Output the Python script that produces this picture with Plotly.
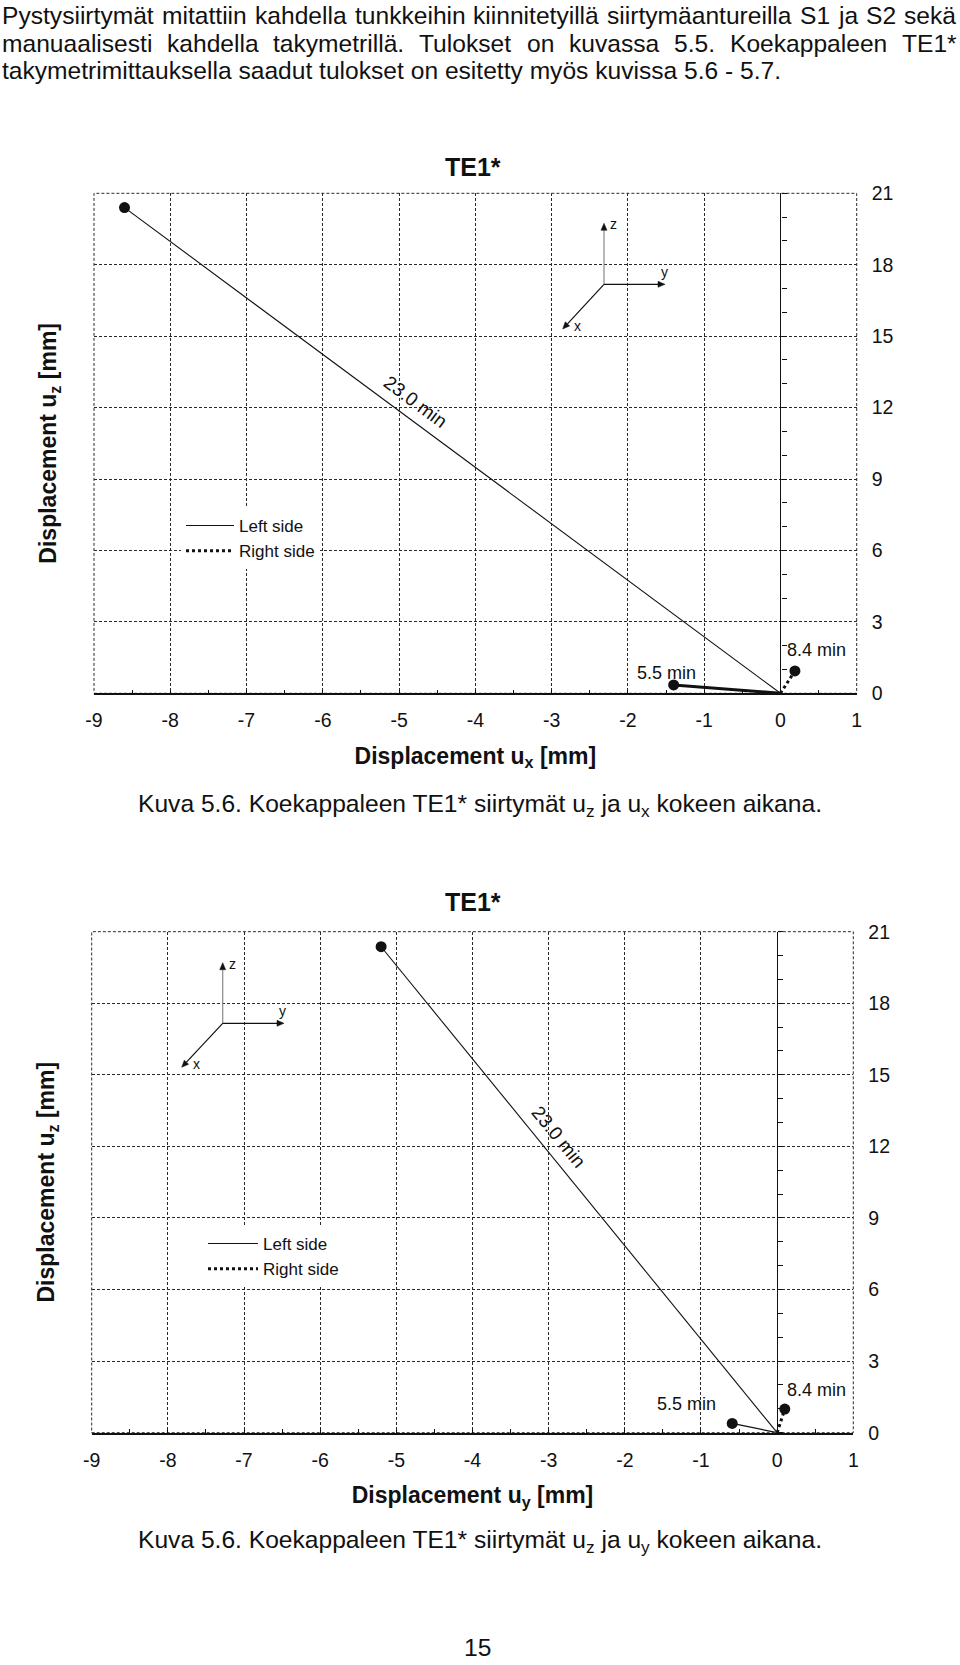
import math
import plotly.graph_objects as go

W, H = 960, 1665

# ---------------- data ----------------
time_left = ["5.5 min", "23.0 min"]
time_right = ["8.4 min"]
# chart 1: u_z vs u_x
ux_left = [-1.40, -8.60]
uz_left_a = [0.35, 20.40]
ux_right = [0.19]
uz_right_a = [0.94]
# chart 2: u_z vs u_y
uy_left = [-0.59, -5.20]
uz_left_b = [0.39, 20.37]
uy_right = [0.10]
uz_right_b = [0.99]

x_ticks = [-9, -8, -7, -6, -5, -4, -3, -2, -1, 0, 1]
x_ticktext = ["-9", "-8", "-7", "-6", "-5", "-4", "-3", "-2", "-1", "0", "1"]
z_ticks = [0, 3, 6, 9, 12, 15, 18, 21]
x_range = [-9, 1]
z_range = [0, 21]

FONT = "Liberation Sans, Arial, Helvetica, sans-serif"
BLACK = "#111111"
GRID = "#2a2a2a"
GDASH = "3px,2px"
BODY = 24.6


def px(xp):
    return xp / W


def py(yp):
    return 1 - yp / H


def text_ann(x, y, text, size, xanchor="center", **kw):
    d = dict(x=px(x), y=py(y), xref="paper", yref="paper", text=text,
             showarrow=False, xanchor=xanchor, yanchor="middle",
             font=dict(size=size, color=BLACK, family=FONT))
    d.update(kw)
    return d


def arrow_shapes(o, tip, color, head_color=BLACK):
    ox, oy = o
    tx, ty = tip
    L = math.hypot(tx - ox, ty - oy)
    ux, uy = (tx - ox) / L, (ty - oy) / L
    bx, by = tx - 7 * ux, ty - 7 * uy
    nx, ny = -uy, ux
    line = dict(type="line", xref="paper", yref="paper",
                x0=px(ox), y0=py(oy), x1=px(bx), y1=py(by),
                line=dict(color=color, width=1.2), layer="above")
    p1 = (bx + 3 * nx, by + 3 * ny)
    p2 = (bx - 3 * nx, by - 3 * ny)
    path = "M {:.5f},{:.5f} L {:.5f},{:.5f} L {:.5f},{:.5f} Z".format(
        px(tx), py(ty), px(p1[0]), py(p1[1]), px(p2[0]), py(p2[1]))
    head = dict(type="path", xref="paper", yref="paper", path=path,
                fillcolor=head_color, line=dict(color=head_color, width=0.5),
                layer="above")
    return [line, head]


fig = go.Figure()

charts = [
    dict(xa="x", ya="y", ylab_ref="y2", yz_ref="y3",
         xl="xaxis", yl="yaxis", ylab="yaxis2", yz="yaxis3", leg="legend",
         hl=ux_left, vl=uz_left_a, hr=ux_right, vr=uz_right_a,
         left_px=94.0, right_px=856.7, top_px=193.3, bot_px=693.3,
         short_w=3.0, xtitle="<b>Displacement u<sub>x</sub> [mm]</b>",
         lab55=(-7, -12), lab84=(22, -21), f23=0.557, sh23=21, ang23=36.5,
         title_y=167, caption_y=805,
         caption="Kuva 5.6. Koekappaleen TE1* siirtymät u<sub>z</sub> ja u<sub>x</sub> kokeen aikana.",
         leg_xy=(181, 508), leg_w=48,
         tri=dict(o=(604, 284.3), z=(604, 223.3), y=(665, 284.3), x=(562.7, 329),
                  lz=(613, 224), ly=(664, 272), lx=(577, 326))),
    dict(xa="x2", ya="y4", ylab_ref="y5", yz_ref="y6",
         xl="xaxis2", yl="yaxis4", ylab="yaxis5", yz="yaxis6", leg="legend2",
         hl=uy_left, vl=uz_left_b, hr=uy_right, vr=uz_right_b,
         left_px=91.7, right_px=853.3, top_px=931.7, bot_px=1432.7,
         short_w=1.2, xtitle="<b>Displacement u<sub>y</sub> [mm]</b>",
         lab55=(-46, -19), lab84=(32, -19), f23=0.553, sh23=27, ang23=50.8,
         title_y=902, caption_y=1541,
         caption="Kuva 5.6. Koekappaleen TE1* siirtymät u<sub>z</sub> ja u<sub>y</sub> kokeen aikana.",
         leg_xy=(203, 1226), leg_w=50,
         tri=dict(o=(222.7, 1023.3), z=(222.7, 962.7), y=(284, 1023.3), x=(181.7, 1067.3),
                  lz=(232, 964), ly=(282, 1011), lx=(196, 1064))),
]

annotations = []
shapes = []
layout_axes = {}

for c in charts:
    xa, ya = c["xa"], c["ya"]
    # long left-side line (23.0 min)
    fig.add_trace(go.Scatter(
        x=[0, c["hl"][1]], y=[0, c["vl"][1]], xaxis=xa, yaxis=ya,
        mode="lines", name="Left side", legend=c["leg"],
        line=dict(color=BLACK, width=1.1), hoverinfo="skip"))
    # short left-side line (5.5 min)
    fig.add_trace(go.Scatter(
        x=[0, c["hl"][0]], y=[0, c["vl"][0]], xaxis=xa, yaxis=ya,
        mode="lines", showlegend=False,
        line=dict(color=BLACK, width=c["short_w"]), hoverinfo="skip"))
    # end-point dots (on the overlay axis that carries the right-hand labels)
    fig.add_trace(go.Scatter(
        x=c["hl"] + c["hr"], y=c["vl"] + c["vr"], xaxis=xa, yaxis=c["ylab_ref"],
        mode="markers", showlegend=False,
        marker=dict(color=BLACK, size=11), hoverinfo="skip"))
    # right side (dotted) on the axis drawn at x = 0
    fig.add_trace(go.Scatter(
        x=[0, c["hr"][0]], y=[0, c["vr"][0]], xaxis=xa, yaxis=c["yz_ref"],
        mode="lines", name="Right side", legend=c["leg"],
        line=dict(color=BLACK, width=3, dash="dot"), hoverinfo="skip"))

    # time labels
    annotations.append(dict(x=c["hl"][0], y=c["vl"][0], xref=xa, yref=ya,
                            text=time_left[0], showarrow=False,
                            xanchor="center", yanchor="middle",
                            xshift=c["lab55"][0], yshift=-c["lab55"][1],
                            font=dict(size=18, color=BLACK, family=FONT)))
    annotations.append(dict(x=c["hr"][0], y=c["vr"][0], xref=xa, yref=ya,
                            text=time_right[0], showarrow=False,
                            xanchor="center", yanchor="middle",
                            xshift=c["lab84"][0], yshift=-c["lab84"][1],
                            font=dict(size=18, color=BLACK, family=FONT)))
    f = c["f23"]
    annotations.append(dict(x=f * c["hl"][1], y=f * c["vl"][1], xref=xa, yref=ya,
                            text=time_left[1], showarrow=False, yshift=c["sh23"],
                            xanchor="center", yanchor="middle",
                            textangle=c["ang23"],
                            font=dict(size=19, color=BLACK, family=FONT)))

    d0, d1 = px(c["left_px"]), px(c["right_px"])
    yd0, yd1 = py(c["bot_px"]), py(c["top_px"])
    zero_pos = d0 + (0 - x_range[0]) / (x_range[1] - x_range[0]) * (d1 - d0)

    layout_axes[c["xl"]] = dict(
        domain=[d0, d1], anchor=ya, range=x_range,
        tickmode="array", tickvals=x_ticks, ticktext=x_ticktext,
        showgrid=True, gridcolor=GRID, griddash=GDASH, gridwidth=1,
        zeroline=False, showline=True, linecolor=BLACK, linewidth=1.5,
        ticks="inside", ticklen=4, tickcolor=BLACK,
        minor=dict(dtick=0.5, ticks="inside", ticklen=4, tickcolor=BLACK, showgrid=False),
        tickfont=dict(size=19.5, color=BLACK, family=FONT), ticklabelstandoff=9,
        title=dict(text=c["xtitle"], font=dict(size=23, color=BLACK, family=FONT), standoff=17),
        automargin=False, fixedrange=True)
    # left axis: carries only the title
    layout_axes[c["yl"]] = dict(
        domain=[yd0, yd1], anchor=xa, range=z_range,
        tickmode="array", tickvals=[], showgrid=False,
        zeroline=False, showline=False, ticks="",
        title=dict(text="<b>Displacement u<sub>z</sub> [mm]</b>",
                   font=dict(size=23, color=BLACK, family=FONT), standoff=29),
        automargin=False, fixedrange=True)
    # right labels + horizontal grid
    layout_axes[c["ylab"]] = dict(
        overlaying=ya, anchor=xa, side="right", range=z_range,
        tickmode="array", tickvals=z_ticks,
        showgrid=True, gridcolor=GRID, griddash=GDASH, gridwidth=1,
        zeroline=False, showline=False, ticks="",
        tickfont=dict(size=19.5, color=BLACK, family=FONT), ticklabelstandoff=14,
        automargin=False, fixedrange=True)
    # vertical axis drawn at x = 0
    layout_axes[c["yz"]] = dict(
        overlaying=ya, anchor="free", position=zero_pos, side="right",
        range=z_range, dtick=1, tick0=0, showgrid=False, zeroline=False,
        showline=True, linecolor=BLACK, linewidth=1.3, ticks="outside",
        ticklen=5, tickcolor=BLACK, showticklabels=False,
        automargin=False, fixedrange=True)

    # dashed plot border
    shapes.append(dict(type="rect", xref="paper", yref="paper",
                       x0=d0, x1=d1, y0=yd0, y1=yd1,
                       line=dict(color=GRID, width=1, dash=GDASH), layer="below"))

    annotations.append(text_ann(473, c["title_y"], "<b>TE1*</b>", 25))
    annotations.append(text_ann(136, c["caption_y"], c["caption"], BODY, xanchor="left"))

    # coordinate triad
    t = c["tri"]
    for key, col in (("z", "#888888"), ("y", BLACK), ("x", BLACK)):
        shapes.extend(arrow_shapes(t["o"], t[key], col))
        lx, ly = t["l" + key]
        annotations.append(text_ann(lx, ly, key, 14))

    lx0, ly0 = c["leg_xy"]
    layout_axes[c["leg"]] = dict(
        x=px(lx0), y=py(ly0), xanchor="left", yanchor="top", bgcolor="white",
        borderwidth=0, itemwidth=c["leg_w"], tracegroupgap=0,
        font=dict(size=17, color=BLACK, family=FONT))

# body text: the two justified lines are set word by word
line1_words = ["Pystysiirtymät", "mitattiin", "kahdella", "tunkkeihin", "kiinnitetyillä",
               "siirtymäantureilla", "S1", "ja", "S2", "sekä"]
line1_x = [0, 160, 253, 353, 471, 605, 798, 836, 864, 902]
line2_words = ["manuaalisesti", "kahdella", "takymetrillä.", "Tulokset", "on",
               "kuvassa", "5.5.", "Koekappaleen", "TE1*"]
line2_x = [0, 165, 271, 417, 525, 567, 672, 728, 900]
for wtxt, wx in zip(line1_words, line1_x):
    annotations.append(text_ann(wx, 15, wtxt, BODY, xanchor="left"))
for wtxt, wx in zip(line2_words, line2_x):
    annotations.append(text_ann(wx, 43.5, wtxt, BODY, xanchor="left"))
annotations.append(text_ann(0, 71, "takymetrimittauksella saadut tulokset on esitetty myös kuvissa 5.6 - 5.7.",
                            BODY, xanchor="left"))
annotations.append(text_ann(477, 1647, "15", BODY))

fig.update_layout(
    width=W, height=H, margin=dict(l=0, r=0, t=0, b=0, pad=0),
    paper_bgcolor="white", plot_bgcolor="white",
    font=dict(family=FONT, color=BLACK),
    annotations=annotations, shapes=shapes, **layout_axes)

fig.write_html("out.html")
